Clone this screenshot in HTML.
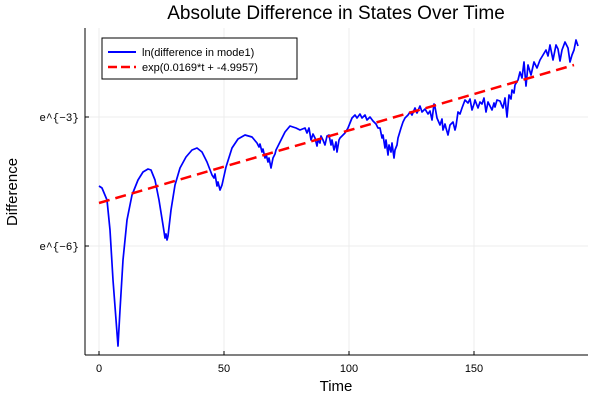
<!DOCTYPE html>
<html><head><meta charset="utf-8"><style>body{margin:0;background:#fff}svg{display:block;font-family:"Liberation Sans",sans-serif}</style></head><body>
<svg width="600" height="400" viewBox="0 0 600 400">
<rect width="600" height="400" fill="#fff"/>
<g stroke="#ececec" stroke-width="1">
<line x1="99" y1="28" x2="99" y2="355"/><line x1="224" y1="28" x2="224" y2="355"/><line x1="349" y1="28" x2="349" y2="355"/><line x1="474" y1="28" x2="474" y2="355"/>
<line x1="85" y1="117" x2="588" y2="117"/><line x1="85" y1="246" x2="588" y2="246"/>
</g>
<g stroke="#000" stroke-width="1">
<line x1="85" y1="28" x2="85" y2="355"/><line x1="85" y1="355" x2="588" y2="355"/>
<line x1="99" y1="355" x2="99" y2="351"/><line x1="224" y1="355" x2="224" y2="351"/><line x1="349" y1="355" x2="349" y2="351"/><line x1="474" y1="355" x2="474" y2="351"/>
<line x1="85" y1="117" x2="89" y2="117"/><line x1="85" y1="246" x2="89" y2="246"/>
</g>
<g font-size="11" fill="#000">
<text x="99" y="372" text-anchor="middle">0</text><text x="224" y="372" text-anchor="middle">50</text><text x="349" y="372" text-anchor="middle">100</text><text x="474" y="372" text-anchor="middle">150</text>
<text x="79" y="121" text-anchor="end" font-family="Liberation Mono,monospace">e^{−3}</text>
<text x="79" y="250" text-anchor="end" font-family="Liberation Mono,monospace">e^{−6}</text>
</g>
<text x="336" y="391" font-size="15" text-anchor="middle">Time</text>
<text x="17" y="192" font-size="15" text-anchor="middle" transform="rotate(-90 17 192)">Difference</text>
<text x="336" y="19" font-size="19" text-anchor="middle">Absolute Difference in States Over Time</text>
<polyline fill="none" stroke="#0000ff" stroke-width="1.7" stroke-linejoin="round" points="99,186 102,188 107,200 110,230 113,280 118,346 120,310 123,260 127,220 132,195 138,180 143,172 148,169 151,170 155,180 159,200 163,225 165,238 166,234 167,240 168,236 171,210 175,185 180,168 186,157 192,150 197,148 202,152 207,162 212,175 214,178 215,174 217,186 218,182 220,190 222,185 226,167 232,148 238,139 245,135 252,137 257,143 259,147 260,144 262,152 263,149 265,158 266,154 268,162 269,158 271,168 273,158 275,154 276,150 280,142 285,132 290,126 296,128 300,130 305,128 307,133 309,128 311,140 313,134 315,138 317,146 318,140 320,143 321,136 323,140 325,145 327,136 329,135 331,145 332,140 334,150 336,142 337,152 339,140 340,138 343,135 345,133 348,128 352,118 355,115 357,118 360,114 362,118 365,115 367,120 370,117 373,121 376,124 378,128 380,128 382,138 383,135 385,148 386,140 388,155 389,145 391,152 392,143 394,158 395,150 397,145 398,138 401,128 403,122 405,118 408,115 410,112 412,115 415,108 417,113 420,106 422,112 425,109 428,114 430,111 432,120 434,104 435,107 437,118 440,125 442,119 443,130 445,124 446,128 448,135 450,125 453,122 455,130 456,126 458,112 460,114 462,108 465,100 468,103 470,99 472,110 474,104 475,100 478,108 480,102 482,104 484,98 486,112 488,102 490,106 492,110 494,103 495,107 497,100 500,101 502,106 503,108 505,98 507,117 509,95 511,99 512,90 514,93 515,85 518,80 520,72 522,78 524,62 526,86 528,65 531,75 534,62 537,68 540,60 543,55 546,50 548,56 550,45 553,60 556,45 558,49 560,61 562,50 565,42 568,48 570,62 572,55 574,50 576,40 578,46"/>
<line x1="99" y1="203" x2="574" y2="65" stroke="#ff0000" stroke-width="2.5" stroke-dasharray="11,6"/>
<rect x="102" y="38" width="195" height="41" fill="#fff" stroke="#000" stroke-width="1"/>
<line x1="108" y1="52" x2="136" y2="52" stroke="#0000ff" stroke-width="2"/>
<line x1="108" y1="67" x2="136" y2="67" stroke="#ff0000" stroke-width="2.5" stroke-dasharray="9,4"/>
<text x="142" y="56" font-size="11">ln(difference in mode1)</text>
<text x="142" y="71" font-size="11">exp(0.0169*t + -4.9957)</text>
</svg>
</body></html>
